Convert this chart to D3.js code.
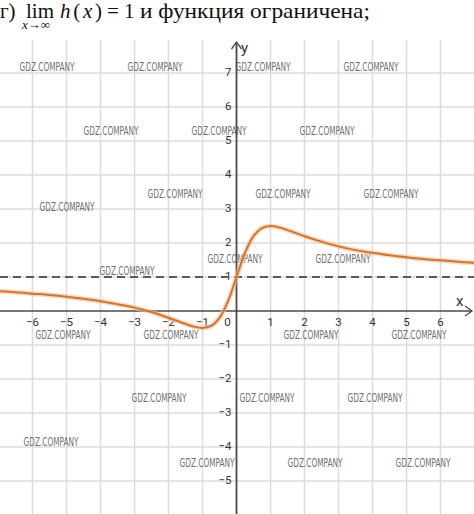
<!DOCTYPE html>
<html>
<head>
<meta charset="utf-8">
<script src="https://cdn.jsdelivr.net/npm/d3@7"></script>
<style>
  html, body { margin: 0; padding: 0; background: #fff; }
  svg { display: block; }
</style>
</head>
<body>
<svg id="chart" width="474" height="514"></svg>
<script>
// ---- data ----
const xTicks = [-6, -5, -4, -3, -2, -1, 1, 2, 3, 4, 5, 6];
const yTicks = [-5, -4, -3, -2, -1, 1, 2, 3, 4, 5, 6, 7];
const curveX = [-7, -6.5, -6, -5.5, -5, -4.5, -4, -3.5, -3, -2.5, -2, -1.5, -1.25, -1, -0.75, -0.5, -0.25, 0, 0.25, 0.5, 0.75, 1, 1.25, 1.5, 2, 2.5, 3, 3.5, 4, 4.5, 5, 5.5, 6, 6.5, 7];
const curveY = [0.58, 0.55, 0.51, 0.47, 0.42, 0.36, 0.29, 0.2, 0.1, -0.03, -0.2, -0.38, -0.46, -0.5, -0.44, -0.2, 0.29, 1, 1.71, 2.2, 2.44, 2.5, 2.46, 2.38, 2.2, 2.04, 1.9, 1.79, 1.71, 1.64, 1.58, 1.53, 1.49, 1.45, 1.42];
const asymptoteY = 1;
const watermarkText = "GDZ.COMPANY";
// layout: watermark centres (screen px)
const watermarkSpots = [
  [47, 66], [155, 66], [263, 66], [371, 66],
  [111, 130], [219, 130], [327, 130],
  [175, 193], [283, 193], [391, 193], [67, 206],
  [235, 258], [343, 258], [127, 270],
  [63, 334], [171, 334], [311, 334], [419, 334],
  [159, 397], [267, 397], [375, 397],
  [51, 441], [207, 462], [315, 462], [423, 462]
];

// ---- scales ----
const svg = d3.select("#chart");
const x = d3.scaleLinear().domain([-7, 7]).range([-1.5, 474.5]);
const y = d3.scaleLinear().domain([-6, 8]).range([515, 39]);
const gridTop = 40;

// grid
const grid = svg.append("g").attr("stroke", "#dcdcdc").attr("stroke-width", 1.5);
grid.selectAll("line.v").data(xTicks).join("line")
  .attr("x1", d => x(d)).attr("x2", d => x(d))
  .attr("y1", gridTop).attr("y2", 514);
grid.selectAll("line.h").data(yTicks).join("line")
  .attr("x1", 0).attr("x2", 474)
  .attr("y1", d => y(d)).attr("y2", d => y(d));

// watermarks
svg.append("g").selectAll("text").data(watermarkSpots).join("text")
  .attr("x", d => d[0] - 27.5).attr("y", d => d[1] + 4.5)
  .attr("textLength", 55).attr("lengthAdjust", "spacingAndGlyphs")
  .attr("font-family", "'Liberation Sans Narrow', 'DejaVu Sans Condensed', sans-serif")
  .attr("font-size", 12.5).attr("fill", "#707070")
  .text(watermarkText);

// axes
const ax = svg.append("g").attr("stroke", "#4a4a4a").attr("fill", "none");
ax.append("line").attr("x1", 0).attr("x2", 472).attr("y1", y(0)).attr("y2", y(0)).attr("stroke-width", 1.6);
ax.append("path").attr("d", `M${465},${y(0)-5}L${472},${y(0)}L${465},${y(0)+5}`).attr("stroke-width", 1.3);
ax.append("line").attr("x1", x(0)).attr("x2", x(0)).attr("y1", 42).attr("y2", 514).attr("stroke-width", 1.8);
ax.append("path").attr("d", `M${x(0)-5},${49}L${x(0)},${42}L${x(0)+5},${49}`).attr("stroke-width", 1.3);

// tick labels
const lab = svg.append("g").attr("font-family", "Roboto, 'DejaVu Sans', sans-serif")
  .attr("font-size", 11.5).attr("fill", "#333");
const fmt = d => d < 0 ? "\u2212" + Math.abs(d) : String(d);
lab.selectAll("text.xt").data(xTicks).join("text")
  .attr("x", d => x(d)).attr("y", y(0) + 15).attr("text-anchor", "middle").text(fmt);
lab.append("text").attr("x", x(0) - 9).attr("y", y(0) + 15).attr("text-anchor", "middle").text("0");
lab.selectAll("text.yt").data(yTicks).join("text")
  .attr("x", x(0) - 5).attr("y", d => y(d) + 3).attr("text-anchor", "end").text(fmt);
svg.append("text").attr("x", 456).attr("y", 306).attr("font-family", "Roboto, 'DejaVu Sans', sans-serif")
  .attr("font-size", 15).attr("fill", "#333").text("x");
svg.append("text").attr("x", 241).attr("y", 53).attr("font-family", "Roboto, 'DejaVu Sans', sans-serif")
  .attr("font-size", 15).attr("fill", "#333").text("y");

// asymptote y = 1
svg.append("line").attr("x1", 0).attr("x2", 474)
  .attr("y1", y(asymptoteY)).attr("y2", y(asymptoteY))
  .attr("stroke", "#5a5a5a").attr("stroke-width", 2).attr("stroke-dasharray", "8,5");

// curve
const pts = curveX.map((d, i) => [d, curveY[i]]);
const line = d3.line().x(d => x(d[0])).y(d => y(d[1])).curve(d3.curveCatmullRom.alpha(0.5));
svg.append("path").attr("d", line(pts)).attr("fill", "none")
  .attr("stroke", "#f6c08c").attr("stroke-opacity", 0.6).attr("stroke-width", 5);
svg.append("path").attr("d", line(pts)).attr("fill", "none")
  .attr("stroke", "#c9773a").attr("stroke-width", 2);

// title
const t = svg.append("g").attr("font-family", "'Liberation Serif', 'DejaVu Serif', serif").attr("fill", "#111");
t.append("text").attr("x", 0).attr("y", 17.5).attr("font-size", 21).text("г)");
t.append("text").attr("x", 26).attr("y", 17.5).attr("font-size", 21).text("lim");
const h = t.append("text").attr("x", 60).attr("y", 17.5).attr("font-size", 21)
  .attr("textLength", 42).attr("lengthAdjust", "spacing");
h.append("tspan").attr("font-style", "italic").text("h");
h.append("tspan").text("(");
h.append("tspan").attr("font-style", "italic").text("x");
h.append("tspan").text(")");
t.append("text").attr("x", 107).attr("y", 17.5).attr("font-size", 21).text("= 1");
t.append("text").attr("x", 140).attr("y", 17.5).attr("font-size", 21)
  .attr("textLength", 230).attr("lengthAdjust", "spacingAndGlyphs").text("и функция ограничена;");
const sub = t.append("text").attr("x", 22).attr("y", 29).attr("font-size", 13);
sub.append("tspan").attr("font-style", "italic").text("x");
sub.append("tspan").text("→∞");
</script>
</body>
</html>
